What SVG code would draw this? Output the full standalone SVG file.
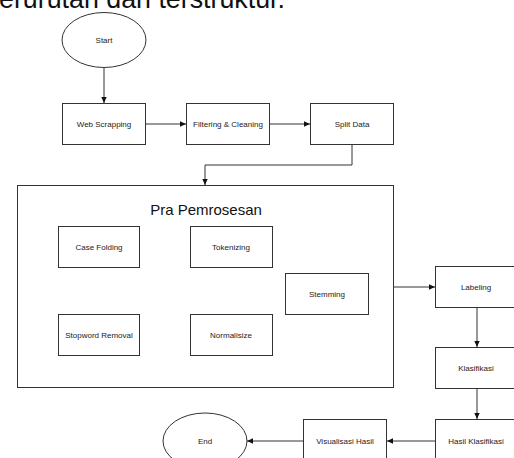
<svg xmlns="http://www.w3.org/2000/svg" width="514" height="458" viewBox="0 0 514 458">
<defs>
<style>
.n{fill:#fff;stroke:#333;stroke-width:1}
.t{font-family:"Liberation Sans",Arial,sans-serif;font-size:8px;fill:#222;text-anchor:middle;dominant-baseline:central}
.c{fill:none;stroke:#333;stroke-width:1}
</style>
<marker id="a" viewBox="0 0 10 10" refX="9" refY="5" markerWidth="7" markerHeight="7" orient="auto" markerUnits="userSpaceOnUse"><path d="M0,1L9,5L0,9z" fill="#111"/></marker>
</defs>
<rect width="514" height="458" fill="#fff"/>
<text x="-1" y="7.5" font-family="'Liberation Sans',Arial,sans-serif" font-size="26.8" fill="#111">erurutan dan terstruktur.</text>
<g id="connectors">
<path class="c" d="M104,67.5V103" marker-end="url(#a)"/>
<path class="c" d="M145,124H186" marker-end="url(#a)"/>
<path class="c" d="M269,124H310" marker-end="url(#a)"/>
<path class="c" d="M352,145V165H205V185" marker-end="url(#a)"/>
<path class="c" d="M394,287H435" marker-end="url(#a)"/>
<path class="c" d="M477,307V347" marker-end="url(#a)"/>
<path class="c" d="M477,388V419" marker-end="url(#a)"/>
<path class="c" d="M435,441H387" marker-end="url(#a)"/>
<path class="c" d="M303,441H247" marker-end="url(#a)"/>
</g>
<g id="start"><ellipse class="n" cx="104" cy="40" rx="42" ry="27.5"/><text class="t" x="104" y="40">Start</text></g>
<g id="web"><rect class="n" x="62.5" y="103.5" width="83" height="41"/><text class="t" x="104" y="124">Web Scrapping</text></g>
<g id="filter"><rect class="n" x="186.5" y="103.5" width="83" height="41"/><text class="t" x="228" y="124">Filtering &amp; Cleaning</text></g>
<g id="split"><rect class="n" x="310.5" y="103.5" width="83" height="41"/><text class="t" x="352" y="124">Split Data</text></g>
<g id="pra"><rect class="n" x="17.5" y="185.5" width="376" height="202"/><text x="206" y="209" font-family="'Liberation Sans',Arial,sans-serif" font-size="15" fill="#111" text-anchor="middle" dominant-baseline="central">Pra Pemrosesan</text></g>
<g id="case"><rect class="n" x="58.5" y="226.5" width="81" height="41"/><text class="t" x="99" y="247">Case Folding</text></g>
<g id="token"><rect class="n" x="190.5" y="226.5" width="82" height="41"/><text class="t" x="231" y="247">Tokenizing</text></g>
<g id="stem"><rect class="n" x="285.5" y="273.5" width="83" height="41"/><text class="t" x="327" y="294">Stemming</text></g>
<g id="stop"><rect class="n" x="58.5" y="314.5" width="81" height="41"/><text class="t" x="99" y="335">Stopword Removal</text></g>
<g id="norm"><rect class="n" x="190.5" y="314.5" width="82" height="41"/><text class="t" x="231" y="335">Normalisize</text></g>
<g id="label"><rect class="n" x="435.5" y="266.5" width="83" height="41"/><text class="t" x="476" y="287">Labeling</text></g>
<g id="klas"><rect class="n" x="435.5" y="347.5" width="83" height="41"/><text class="t" x="476" y="368">Klasifikasi</text></g>
<g id="hasil"><rect class="n" x="435.5" y="419.5" width="83" height="41"/><text class="t" x="476" y="441">Hasil Klasifikasi</text></g>
<g id="visual"><rect class="n" x="303.5" y="419.5" width="83" height="41"/><text class="t" x="345" y="441">Visualisasi Hasil</text></g>
<g id="end"><ellipse class="n" cx="205" cy="441" rx="42" ry="28"/><text class="t" x="205" y="441">End</text></g>
</svg>
